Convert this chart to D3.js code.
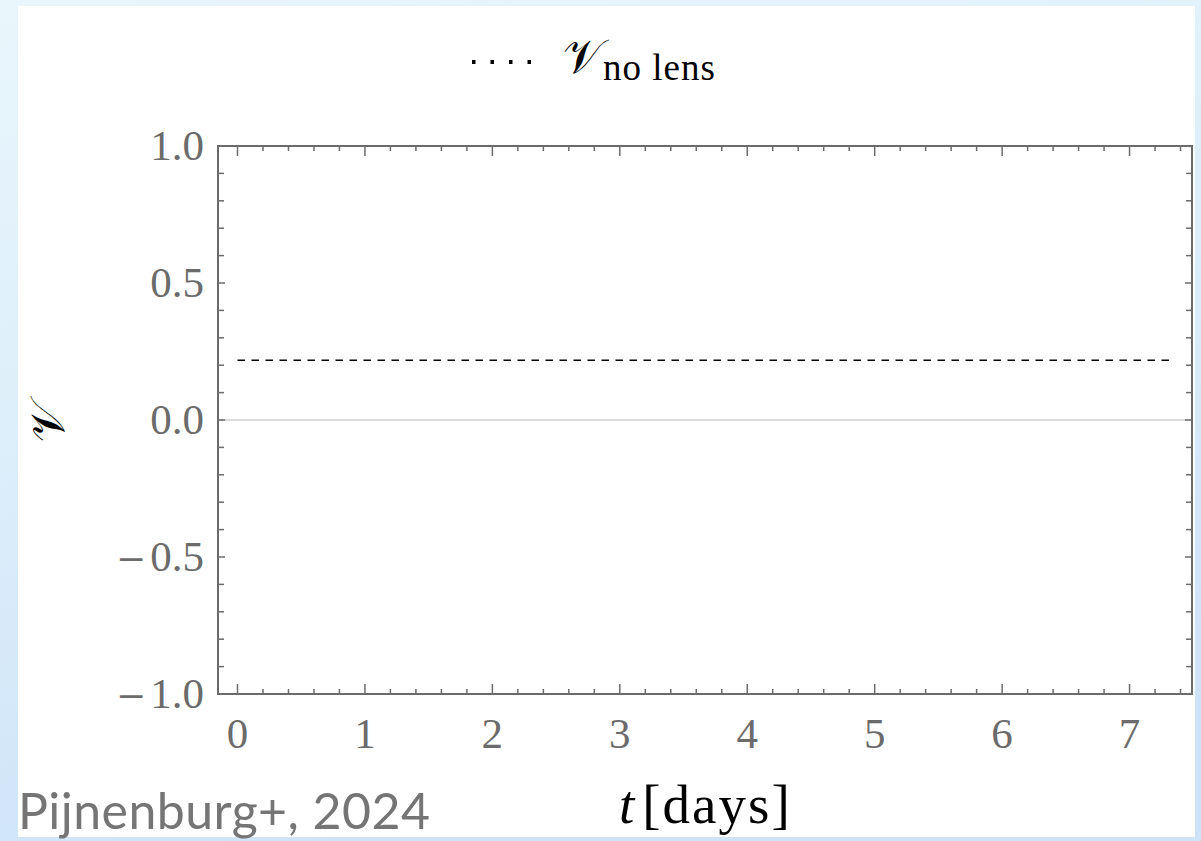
<!DOCTYPE html>
<html>
<head>
<meta charset="utf-8">
<script src="https://cdn.jsdelivr.net/npm/d3@7"></script>
<style>
  html, body { margin: 0; padding: 0; }
  svg { display: block; }
</style>
</head>
<body>
<svg id="chart" width="1201" height="841"></svg>
<script>
// data
const noLensT = [0, 7.33];
const noLensV = [0.218, 0.218];
const zeroT = [-0.153, 7.49];
const zeroV = [0, 0];
const xTicks = [0, 1, 2, 3, 4, 5, 6, 7];
const yTicks = [-1.0, -0.5, 0.0, 0.5, 1.0];
const legendLabel = 'no lens';
const credit = 'Pijnenburg+, 2024';

let svg = d3.select('#chart');
let W = 1201, H = 841;

// background gradient + white card
let defs = svg.append('defs');
let grad = defs.append('linearGradient').attr('id', 'bg')
  .attr('x1', '0').attr('y1', '0').attr('x2', '0.3').attr('y2', '1');
grad.append('stop').attr('offset', '0').attr('stop-color', '#e9f6fc');
grad.append('stop').attr('offset', '0.5').attr('stop-color', '#dceefa');
grad.append('stop').attr('offset', '1').attr('stop-color', '#cfe3f8');
svg.append('rect').attr('width', W).attr('height', H).attr('fill', 'url(#bg)');
svg.append('rect').attr('x', 18).attr('y', 6).attr('width', 1177).attr('height', 831).attr('fill', '#fff');

let pLeft = 218, pRight = 1192, pTop = 146, pBottom = 694;

let x = d3.scaleLinear().domain([-0.153, 7.49]).range([pLeft, pRight]);
let y = d3.scaleLinear().domain([-1, 1]).range([pBottom, pTop]);

let g = svg.append('g');

// zero line
let line = d3.line().x(d => x(d[0])).y(d => y(d[1]));
g.append('path')
  .attr('d', line(d3.zip(zeroT, zeroV)))
  .attr('fill', 'none')
  .attr('stroke', '#dcdcdc')
  .attr('stroke-width', 2);

// no lens line
g.append('path')
  .attr('d', line(d3.zip(noLensT, noLensV)))
  .attr('fill', 'none')
  .attr('stroke', '#000')
  .attr('stroke-width', 1.6)
  .attr('stroke-dasharray', '7.5 6.5');

// frame ticks
let xMinor = d3.range(0, 7.5, 0.2).filter(v => Math.abs(v - Math.round(v)) > 1e-6);
let yMinor = d3.range(-1, 1.001, 0.1).filter(v => Math.abs(v * 2 - Math.round(v * 2)) > 1e-6);

let tickColor = '#6b6b6b';
let ticks = g.append('g').attr('stroke', tickColor).attr('stroke-width', 1.5);

// bottom + top
xTicks.concat(xMinor).forEach(v => {
  let len = xTicks.includes(v) ? 10 : 5;
  ticks.append('line').attr('x1', x(v)).attr('x2', x(v)).attr('y1', pBottom).attr('y2', pBottom - len);
  ticks.append('line').attr('x1', x(v)).attr('x2', x(v)).attr('y1', pTop).attr('y2', pTop + len);
});
// left + right
yTicks.concat(yMinor).forEach(v => {
  let len = yTicks.includes(v) ? 7 : 6;
  ticks.append('line').attr('y1', y(v)).attr('y2', y(v)).attr('x1', pLeft).attr('x2', pLeft + len);
  ticks.append('line').attr('y1', y(v)).attr('y2', y(v)).attr('x1', pRight).attr('x2', pRight - len);
});

g.append('rect')
  .attr('x', pLeft).attr('y', pTop)
  .attr('width', pRight - pLeft).attr('height', pBottom - pTop)
  .attr('fill', 'none')
  .attr('stroke', tickColor)
  .attr('stroke-width', 2);

// tick labels
let serif = '"Liberation Serif", "DejaVu Serif", serif';
g.append('g').selectAll('text')
  .data(xTicks)
  .enter().append('text')
  .attr('x', d => x(d))
  .attr('y', 748)
  .attr('text-anchor', 'middle')
  .attr('font-family', serif)
  .attr('font-size', 43)
  .attr('fill', '#6b6b6b')
  .text(d => d);

let yLab = g.append('g').selectAll('text')
  .data(yTicks)
  .enter().append('text')
  .attr('x', 204)
  .attr('y', d => y(d) + 14)
  .attr('text-anchor', 'end')
  .attr('font-family', serif)
  .attr('font-size', 43)
  .attr('fill', '#6b6b6b');
yLab.filter(d => d < 0).append('tspan')
  .attr('font-family', '"DejaVu Serif", serif')
  .attr('font-size', 36)
  .text('\u2212');
yLab.append('tspan')
  .attr('dx', d => d < 0 ? 4 : 0)
  .text(d => Math.abs(d).toFixed(1));

// axis labels
let xl = svg.append('text')
  .attr('x', 619).attr('y', 823)
  .attr('font-family', serif)
  .attr('font-size', 55)
  .attr('fill', '#000');
xl.append('tspan').attr('font-style', 'italic').text('t');
xl.append('tspan').attr('dx', 8).attr('letter-spacing', 2).text('[days]');

svg.append('text')
  .attr('transform', 'translate(64,422) rotate(-90)')
  .attr('text-anchor', 'middle')
  .attr('font-family', serif)
  .attr('font-size', 48)
  .attr('fill', '#000')
  .text('\uD835\uDCB1');

// legend
let leg = svg.append('g');
leg.append('line')
  .attr('x1', 472).attr('x2', 531).attr('y1', 62).attr('y2', 62)
  .attr('stroke', '#000').attr('stroke-width', 4)
  .attr('stroke-dasharray', '3.5 15');
let lt = leg.append('text')
  .attr('x', 563).attr('y', 73)
  .attr('font-family', serif)
  .attr('fill', '#000');
lt.append('tspan').attr('font-size', 48).text('\uD835\uDCB1');
lt.append('tspan').attr('font-size', 37).attr('dy', 7).attr('letter-spacing', 1).text(legendLabel);

// credit
svg.append('text')
  .attr('x', 18).attr('y', 829)
  .attr('font-family', 'Lato, "Open Sans", sans-serif')
  .attr('font-size', 50)
  .attr('fill', '#757575')
  .attr('textLength', 412)
  .text(credit);
</script>
</body>
</html>
